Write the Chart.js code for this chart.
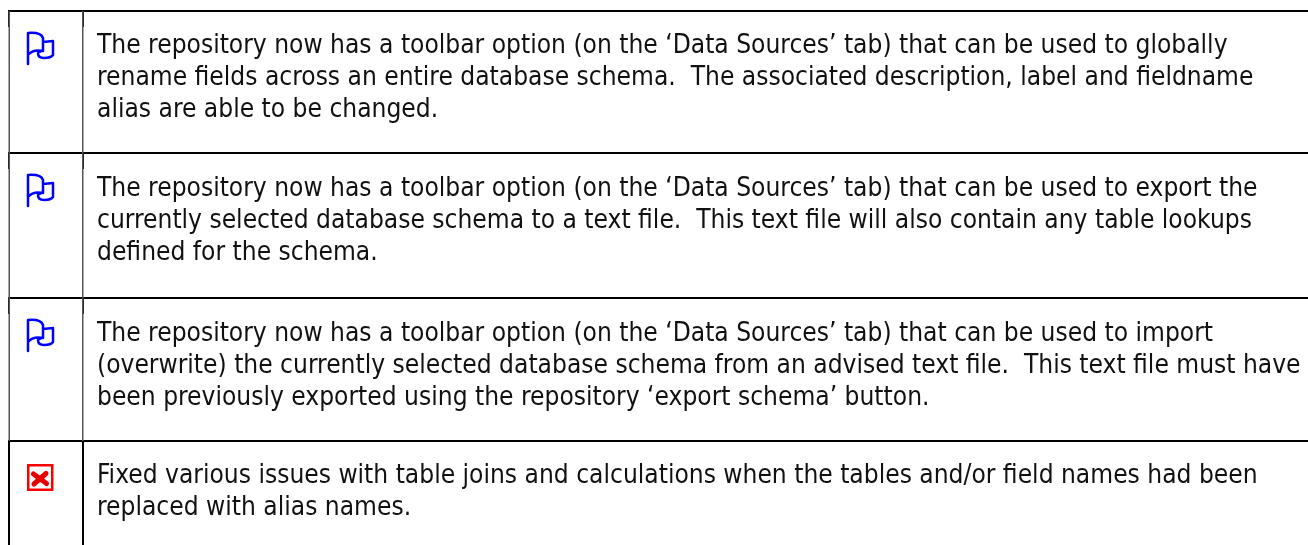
<!DOCTYPE html>
<html>
<head>
<meta charset="utf-8">
<title>Release notes</title>
<script src="https://cdn.jsdelivr.net/npm/chart.js@4"></script>
<style>
  html, body { margin: 0; padding: 0; background: #fff; }
  canvas { display: block; }
</style>
</head>
<body>
<canvas id="chart" width="1308" height="545"></canvas>
<script>
// Table content
const rowKinds = ["feature", "feature", "feature", "fix"];
const rowLines = [
  [
    "The repository now has a toolbar option (on the ‘Data Sources’ tab) that can be used to globally",
    "rename fields across an entire database schema.  The associated description, label and fieldname",
    "alias are able to be changed.",
  ],
  [
    "The repository now has a toolbar option (on the ‘Data Sources’ tab) that can be used to export the",
    "currently selected database schema to a text file.  This text file will also contain any table lookups",
    "defined for the schema.",
  ],
  [
    "The repository now has a toolbar option (on the ‘Data Sources’ tab) that can be used to import",
    "(overwrite) the currently selected database schema from an advised text file.  This text file must have",
    "been previously exported using the repository ‘export schema’ button.",
  ],
  [
    "Fixed various issues with table joins and calculations when the tables and/or field names had been",
    "replaced with alias names.",
  ],
];

// Table layout, in the axis units (the axes run over the whole page)
const rowTops = [11, 153, 298, 441];
const rowBaselines = [42, 43, 43, 42];
const columnEdges = [9, 83];
const columnRules = [9.25, 82.75];
const tableRight = 1308;
const tableBottom = 545;
const capLength = 16;
const iconX = 40;
const iconOffset = 37;
const textX = 97;
const lineGap = 32;

function makeIcon(draw) {
  const c = document.createElement("canvas");
  c.width = 30;
  c.height = 36;
  const g = c.getContext("2d");
  g.translate(-25, -30);
  draw(g);
  return c;
}

const flagIcon = makeIcon((g) => {
  g.strokeStyle = "#0000ff";
  g.lineWidth = 2.5;
  g.lineJoin = "round";
  g.lineCap = "round";
  g.beginPath();
  g.moveTo(28, 33);
  g.lineTo(28, 64);
  g.moveTo(28, 33);
  g.quadraticCurveTo(41, 32, 43, 38);
  g.lineTo(43, 51);
  g.moveTo(43, 42);
  g.lineTo(53, 41);
  g.lineTo(53, 55);
  g.quadraticCurveTo(51, 58, 44, 58);
  g.quadraticCurveTo(38, 58, 38, 53);
  g.lineTo(43, 50);
  g.moveTo(28, 55);
  g.quadraticCurveTo(33, 49, 43, 51);
  g.stroke();
});

const crossIcon = makeIcon((g) => {
  g.strokeStyle = "#ff0000";
  g.lineWidth = 2.5;
  g.strokeRect(28.25, 35.25, 24, 24.5);
  g.lineWidth = 5;
  g.lineCap = "round";
  g.strokeStyle = "#e80000";
  g.beginPath();
  g.moveTo(33.5, 44);
  g.lineTo(46.5, 53.5);
  g.moveTo(46, 43.5);
  g.lineTo(34, 54);
  g.stroke();
});

function border(points, color, width) {
  return {
    type: "line",
    data: points,
    borderColor: color,
    borderWidth: width,
    pointRadius: 0,
    borderCapStyle: "butt",
    tension: 0,
  };
}

const datasets = [];

// thin grey column rules first, the black caps go over them
columnRules.forEach((x) => {
  datasets.push(border([{ x: x, y: rowTops[0] }, { x: x, y: rowTops[3] }], "#555555", 1.5));
});

rowTops.forEach((top, i) => {
  datasets.push(border([{ x: columnEdges[0] - 1, y: top }, { x: tableRight, y: top }], "#000000", 2));
  const capEnd = i === rowTops.length - 1 ? tableBottom : top + capLength;
  columnEdges.forEach((x) => {
    datasets.push(border([{ x: x, y: top }, { x: x, y: capEnd }], "#000000", 2));
  });
});

["feature", "fix"].forEach((kind) => {
  datasets.push({
    type: "scatter",
    data: rowTops
      .filter((top, i) => rowKinds[i] === kind)
      .map((top) => ({ x: iconX, y: top + iconOffset })),
    pointStyle: kind === "feature" ? flagIcon : crossIcon,
    pointRadius: 15,
  });
});

const rowTextPlugin = {
  id: "rowText",
  afterDatasetsDraw(chart) {
    const { ctx, scales } = chart;
    ctx.save();
    ctx.font = "26.1px 'DejaVu Sans Condensed', 'DejaVu Sans', sans-serif";
    ctx.fillStyle = "#111111";
    ctx.textBaseline = "alphabetic";
    rowLines.forEach((lines, r) => {
      lines.forEach((line, i) => {
        const y = rowTops[r] + rowBaselines[r] + i * lineGap;
        ctx.fillText(line, scales.x.getPixelForValue(textX), scales.y.getPixelForValue(y));
      });
    });
    ctx.restore();
  },
};

new Chart(document.getElementById("chart"), {
  data: { datasets: datasets },
  options: {
    responsive: false,
    animation: false,
    layout: { padding: 0, autoPadding: false },
    plugins: { legend: { display: false }, tooltip: { enabled: false }, title: { display: false } },
    scales: {
      x: { type: "linear", min: 0, max: tableRight, display: false },
      y: { type: "linear", min: 0, max: tableBottom, reverse: true, display: false },
    },
  },
  plugins: [rowTextPlugin],
});
</script>
</body>
</html>
